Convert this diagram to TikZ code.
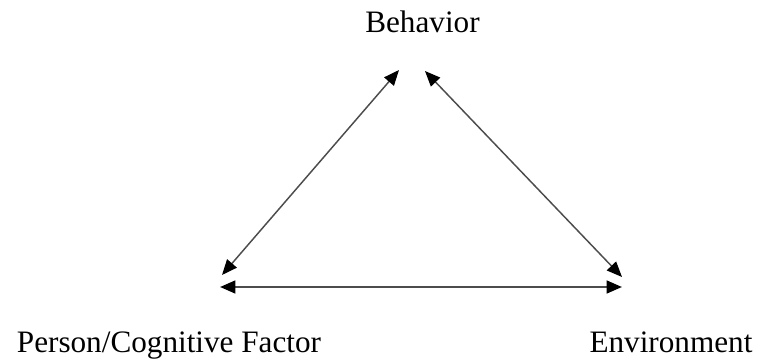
\documentclass[tikz,border=0pt]{standalone}
\usepackage{fontspec}
\setmainfont{Liberation Serif}
\usetikzlibrary{arrows.meta}
\begin{document}
\begin{tikzpicture}[x=0.75pt,y=-0.75pt,
  lbl/.style={inner sep=0pt,anchor=base,font=\fontsize{23.4}{28}\selectfont},
  tip/.style={Triangle[length=11.5pt,width=9.5pt,color=black]},
  link/.style={draw=black!70,line width=1.1pt,{Triangle[length=11.5pt,width=9.5pt,color=black]}-{Triangle[length=11.5pt,width=9.5pt,color=black]}},
  baselink/.style={link,line width=1.8pt}]
\useasboundingbox (0,0) rectangle (758,360);
\node[lbl] (beh) at (422.5,33) {Behavior};
\node[lbl] (per) at (169,352) {Person/Cognitive Factor};
\node[lbl] (env) at (671,352) {Environment};
\coordinate (bl) at (399,70);
\coordinate (br) at (425,71);
\coordinate (pl) at (222,275);
\coordinate (er) at (622,277);
\coordinate (pb) at (220,287);
\coordinate (eb) at (622,287);
\draw[link] (bl) -- (pl);
\draw[link] (br) -- (er);
\draw[baselink] (pb) -- (eb);
\end{tikzpicture}
\end{document}
